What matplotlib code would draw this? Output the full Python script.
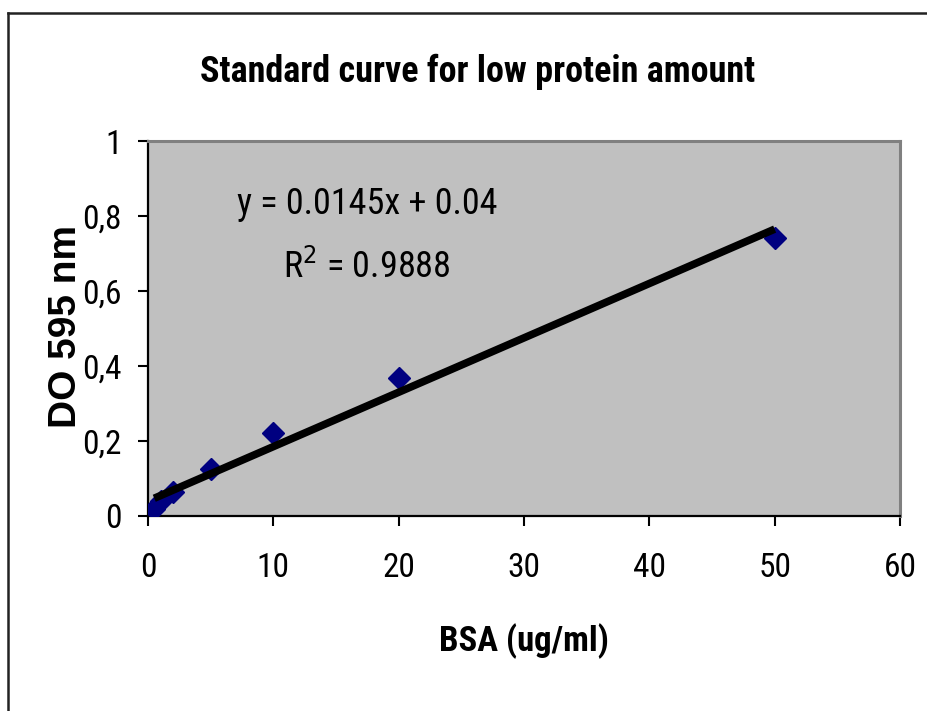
import matplotlib.pyplot as plt
from matplotlib.lines import Line2D
from matplotlib.ticker import FuncFormatter

# BSA standards (ug/ml) and absorbance at 595 nm
bsa = [0.5, 1, 2, 5, 10, 20, 50]
do595 = [0.02, 0.04, 0.065, 0.125, 0.222, 0.368, 0.742]

# linear trendline as printed on the chart
slope = 0.0145
intercept = 0.04
r_squared = 0.9888

x_ticks = [0, 10, 20, 30, 40, 50, 60]
y_ticks = [0, 0.2, 0.4, 0.6, 0.8, 1]

# condensed look of the original; falls back to Liberation Sans
narrow = ['Roboto Condensed', 'Liberation Sans Narrow', 'Liberation Sans',
          'DejaVu Sans']
plt.rcParams['font.family'] = narrow
plt.rcParams['font.stretch'] = 'condensed'

fig = plt.figure(figsize=(9.28, 7.11), dpi=100)
fig.patch.set_facecolor('white')

# outer chart frame: only its left and top edges fall inside the picture
fx = 8 / 928
fy = 1 - 13 / 711
fig.add_artist(Line2D([fx, fx], [0, fy], transform=fig.transFigure,
                      color='#222222', linewidth=1.8))
fig.add_artist(Line2D([fx, 1], [fy, fy], transform=fig.transFigure,
                      color='#222222', linewidth=1.8))

ax = fig.add_axes([148 / 928, 1 - 516 / 711, 752 / 928, 375 / 711])
ax.set_facecolor('#C0C0C0')

# trendline across the data range
x_line = [min(bsa), max(bsa)]
y_line = [slope * v + intercept for v in x_line]

ax.plot(bsa, do595, linestyle='none', marker='D', markersize=11,
        color='#000080', zorder=3)
ax.plot(x_line, y_line, color='black', linewidth=5.5, zorder=4,
        solid_capstyle='butt')

ax.set_xlim(0, 60)
ax.set_ylim(0, 1)
ax.set_xticks(x_ticks)
ax.set_yticks(y_ticks)
ax.yaxis.set_major_formatter(FuncFormatter(
    lambda v, p: ('%g' % v).replace('.', ',')))

for side in ['top', 'right']:
    ax.spines[side].set_color('#808080')
    ax.spines[side].set_linewidth(2.2)
for side in ['left', 'bottom']:
    ax.spines[side].set_color('black')
    ax.spines[side].set_linewidth(1.6)

ax.tick_params(axis='both', direction='out', length=7, width=1.5,
               colors='black')
ax.tick_params(axis='x', labelsize=24, pad=19)
ax.tick_params(axis='y', labelsize=24, pad=12)

ax.set_xlabel('BSA (ug/ml)', fontsize=25, fontweight='bold')
ax.xaxis.set_label_coords(0.5, -0.285)
ax.set_ylabel('DO 595 nm', fontsize=28, fontweight='bold',
              family=['Liberation Sans', 'DejaVu Sans'],
              fontstretch='normal')
ax.yaxis.set_label_coords(-0.085, 0.504)

fig.text(478 / 928, 1 - 72 / 711, 'Standard curve for low protein amount',
         fontsize=26, fontweight='bold', ha='center', va='center')

ax.text(0.291, (516 - 204) / 375, 'y = %gx + %g' % (slope, intercept),
        transform=ax.transAxes, fontsize=26, ha='center', va='center')
ax.text(0.291, (516 - 268) / 375, 'R$^2$ = %g' % r_squared,
        transform=ax.transAxes, fontsize=26, ha='center', va='center')

fig.savefig('out.png', dpi=100)
